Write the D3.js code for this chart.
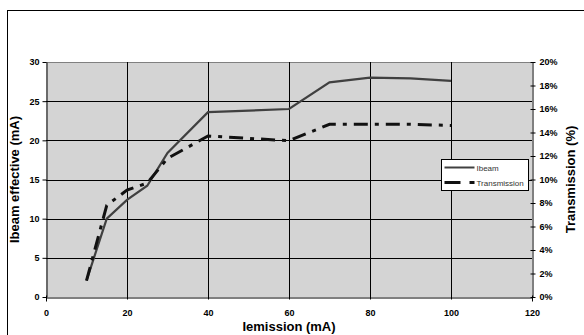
<!DOCTYPE html>
<html>
<head>
<meta charset="utf-8">
<script src="https://cdn.jsdelivr.net/npm/d3@7"></script>
<style>
  body { margin: 0; background: #fff; }
  svg { display: block; font-family: "Liberation Sans", Arial, sans-serif; }
</style>
</head>
<body>
<svg id="chart" width="584" height="335"></svg>
<script>
const emission = [10, 15, 20, 25, 30, 40, 60, 70, 80, 90, 100];
const ibeam = [2.1, 10.0, 12.4, 14.2, 18.4, 23.6, 24.0, 27.4, 28.0, 27.9, 27.6];
const transmission = [1.4, 7.8, 9.1, 9.7, 11.8, 13.7, 13.3, 14.7, 14.7, 14.7, 14.6];
const xTicks = [0, 20, 40, 60, 80, 100, 120];
const yTicks = [0, 5, 10, 15, 20, 25, 30];
const pctTicks = [0, 2, 4, 6, 8, 10, 12, 14, 16, 18, 20];

const svg = d3.select("#chart");
const margin = { top: 62, right: 52, bottom: 38, left: 46 };
const width = 584, height = 335;

// outer chart border
svg.append("rect")
    .attr("x", 7.5).attr("y", 10.5)
    .attr("width", 600).attr("height", 400)
    .attr("fill", "#fff").attr("stroke", "#000").attr("stroke-width", 1);

const x = d3.scaleLinear().domain([0, 120]).range([margin.left, width - margin.right]);
const y = d3.scaleLinear().domain([0, 30]).range([height - margin.bottom, margin.top]);
const y2 = d3.scaleLinear().domain([0, 20]).range([height - margin.bottom, margin.top]);

// plot background
svg.append("rect")
    .attr("x", x(0)).attr("y", y(30))
    .attr("width", x(120) - x(0)).attr("height", y(0) - y(30))
    .attr("fill", "#d4d4d4");

// grid
svg.append("g").selectAll("line").data(yTicks.slice(1)).enter().append("line")
    .attr("x1", x(0)).attr("x2", x(120))
    .attr("y1", d => Math.round(y(d)) + 0.5).attr("y2", d => Math.round(y(d)) + 0.5)
    .attr("stroke", d => d === 30 ? "#808080" : "#000").attr("stroke-width", 1);

svg.append("g").selectAll("line").data(xTicks.slice(1, -1)).enter().append("line")
    .attr("y1", y(0)).attr("y2", y(30))
    .attr("x1", d => Math.round(x(d)) + 0.5).attr("x2", d => Math.round(x(d)) + 0.5)
    .attr("stroke", "#000").attr("stroke-width", 1);

// axes
const axisStyle = g => {
    g.selectAll("text").attr("font-size", 9).attr("font-weight", "bold").attr("fill", "#000");
    g.selectAll("line, path").attr("stroke", "#000");
};

svg.append("g")
    .attr("transform", `translate(0, ${Math.round(y(0)) + 0.5})`)
    .call(d3.axisBottom(x).tickValues(xTicks).tickSize(4).tickPadding(7))
    .call(g => g.selectAll(".tick line").attr("y1", -2).attr("y2", 2))
    .call(g => g.selectAll(".tick text").attr("dy", "0.8em"))
    .call(axisStyle);

svg.append("g")
    .attr("transform", `translate(${Math.round(x(0)) + 0.5}, 0)`)
    .call(d3.axisLeft(y).tickValues(yTicks).tickSize(4).tickPadding(3).tickSizeOuter(0))
    .call(axisStyle);

svg.append("g")
    .attr("transform", `translate(${Math.round(x(120)) + 0.5}, 0)`)
    .call(d3.axisRight(y2).tickValues(pctTicks).tickSize(4).tickPadding(3).tickSizeOuter(0)
        .tickFormat(d => d + "%"))
    .call(g => g.selectAll(".tick line").attr("x1", -2).attr("x2", 3))
    .call(axisStyle);

// lines
const beamLine = d3.line().x((d, i) => x(emission[i])).y(d => y(d));
const transLine = d3.line().x((d, i) => x(emission[i])).y(d => y2(d));

svg.append("path")
    .datum(ibeam)
    .attr("fill", "none")
    .attr("stroke", "#404040")
    .attr("stroke-width", 2.2)
    .attr("d", beamLine);

svg.append("path")
    .datum(transmission)
    .attr("fill", "none")
    .attr("stroke", "#111")
    .attr("stroke-width", 3)
    .attr("stroke-dasharray", "14,7,4,7")
    .attr("d", transLine);

// axis titles
svg.append("text")
    .attr("x", (x(0) + x(120)) / 2).attr("y", 331)
    .attr("text-anchor", "middle")
    .attr("font-size", 13).attr("font-weight", "bold")
    .text("Iemission (mA)");

svg.append("text")
    .attr("transform", `translate(19, ${(y(0) + y(30)) / 2}) rotate(-90)`)
    .attr("text-anchor", "middle")
    .attr("font-size", 13).attr("font-weight", "bold")
    .text("Ibeam effective (mA)");

svg.append("text")
    .attr("transform", `translate(575, ${(y(0) + y(30)) / 2}) rotate(-90)`)
    .attr("text-anchor", "middle")
    .attr("font-size", 13).attr("font-weight", "bold")
    .text("Transmission (%)");

// legend
const legend = svg.append("g").attr("transform", "translate(441.5, 159.5)");
legend.append("rect")
    .attr("width", 87).attr("height", 31)
    .attr("fill", "#fff").attr("stroke", "#000");
legend.append("line")
    .attr("x1", 3).attr("x2", 33).attr("y1", 8).attr("y2", 8)
    .attr("stroke", "#404040").attr("stroke-width", 2);
legend.append("line")
    .attr("x1", 3).attr("x2", 33).attr("y1", 23).attr("y2", 23)
    .attr("stroke", "#111").attr("stroke-width", 3).attr("stroke-dasharray", "16,9,5,9");
legend.append("text")
    .attr("x", 35).attr("y", 11)
    .attr("font-size", 8).attr("fill", "#333")
    .text("Ibeam");
legend.append("text")
    .attr("x", 35).attr("y", 26)
    .attr("font-size", 8).attr("fill", "#333")
    .text("Transmission");
</script>
</body>
</html>
